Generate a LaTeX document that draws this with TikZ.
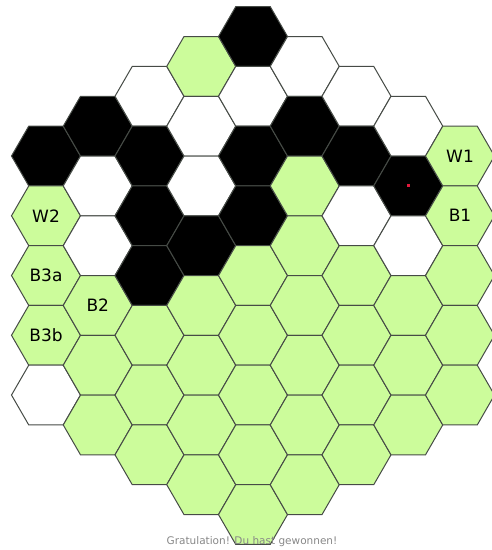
\documentclass[tikz,border=0pt]{standalone}
\usepackage{fontspec}
\setmainfont{DejaVu Sans}
\usepackage{tikz}
\usetikzlibrary{shapes.geometric}
\definecolor{boardgreen}{RGB}{204,252,155}
\definecolor{edgegray}{RGB}{70,75,70}
\definecolor{msggray}{RGB}{135,135,135}
\definecolor{lastred}{RGB}{225,25,60}

\begin{document}
\begin{tikzpicture}[x=1pt, y=1pt,
   cell/.style={regular polygon, regular polygon sides=6, draw=edgegray,
                line width=1pt, minimum size=69pt, inner sep=0pt, outer sep=0pt},
   cg/.style={cell, fill=boardgreen},
   cw/.style={cell, fill=white},
   cb/.style={cell, fill=black},
   lbl/.style={font=\fontsize{17}{17}\selectfont}]
  \useasboundingbox (0,0) rectangle (491,-550);
  \foreach \k/\cells in {1/{cb,cg,cg,cg,cw}, 2/{cb,cw,cw,cg,cg,cg},
                         3/{cw,cb,cb,cb,cg,cg,cg}, 4/{cg,cw,cw,cb,cg,cg,cg,cg},
                         5/{cb,cw,cb,cb,cg,cg,cg,cg,cg}, 6/{cw,cb,cg,cg,cg,cg,cg,cg},
                         7/{cw,cb,cw,cg,cg,cg,cg}, 8/{cw,cb,cw,cg,cg,cg},
                         9/{cg,cg,cg,cg,cg}}{
    \pgfmathsetmacro{\cx}{253+51.75*(\k-5)}
    \pgfmathsetmacro{\cy}{-36.5-29.88*abs(\k-5)}
    \foreach \s [count=\r from 0] in \cells
      \node[\s] (c\k-\r) at (\cx, \cy-59.76*\r) {};
  }

  \node[lbl] (w1) at (c9-0) {W1};
  \node[lbl] (b1) at (c9-1) {B1};
  \node[lbl] (w2) at (c1-1) {W2};
  \node[lbl] (b3a) at (c1-2) {B3a};
  \node[lbl] (b3b) at (c1-3) {B3b};
  \node[lbl] (b2) at (c2-3) {B2};
  \node[fill=lastred, inner sep=0pt, minimum size=3pt] (last) at (c8-1) {};

  \node[anchor=base, text=msggray, font=\fontsize{10.5}{12}\selectfont] (msg)
       at (252,-544) {Gratulation! Du hast gewonnen!};
\end{tikzpicture}
\end{document}
